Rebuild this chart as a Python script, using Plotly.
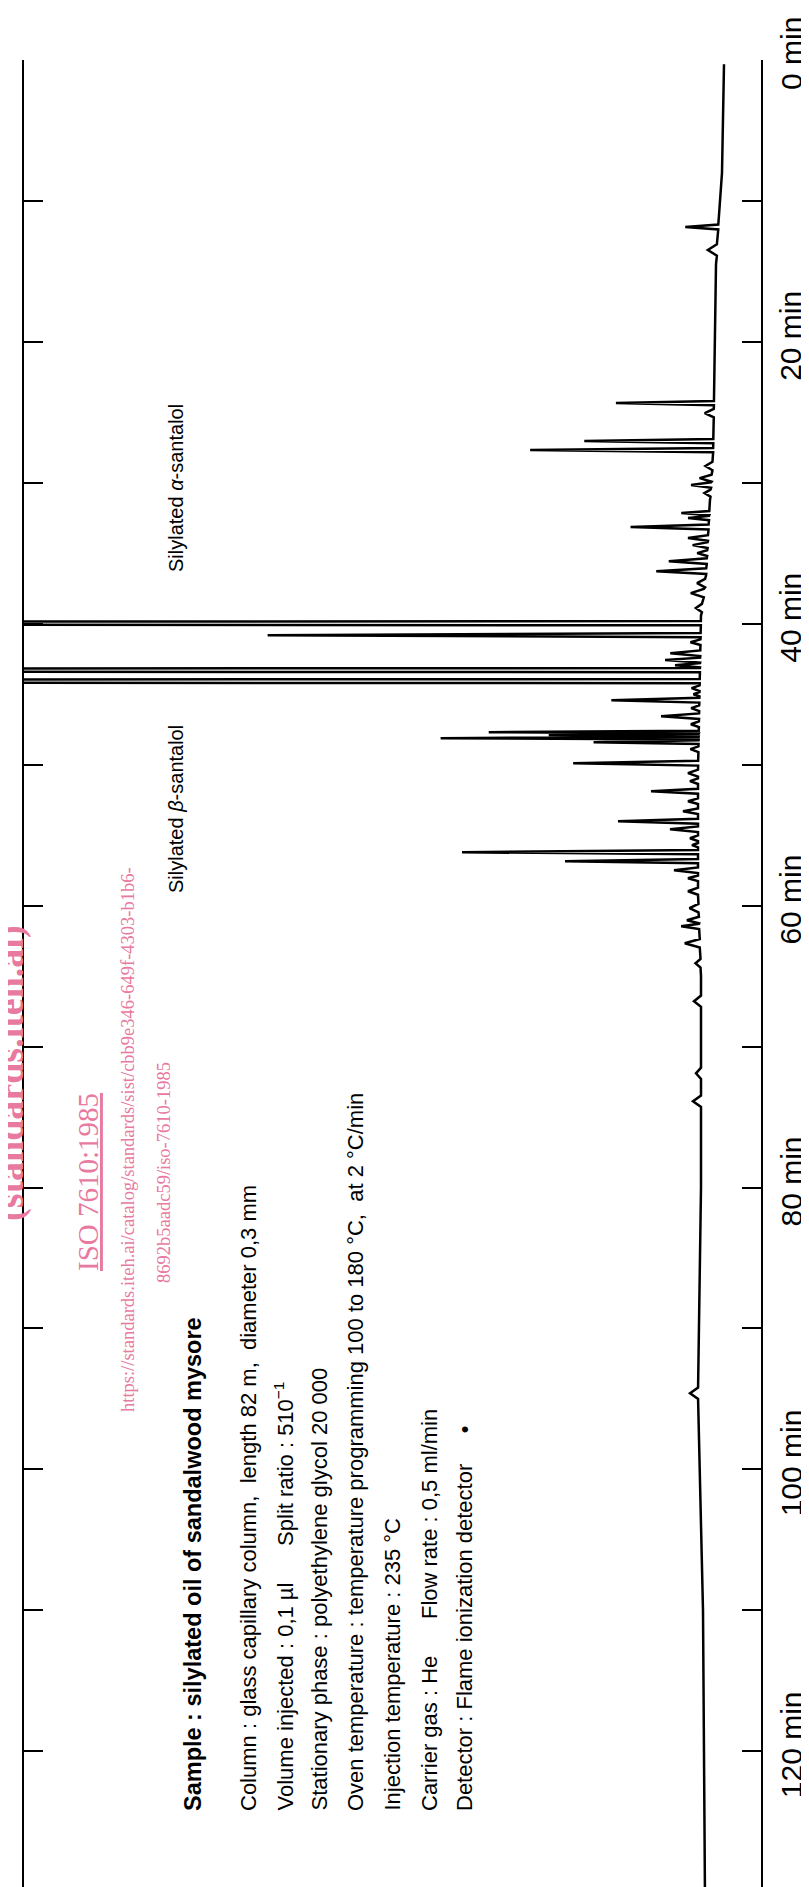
import numpy as np
import plotly.graph_objects as go

# ---------------- data ----------------
# time axis in minutes, response in arbitrary detector units
tick_vals = [0, 10, 20, 30, 40, 50, 60, 70, 80, 90, 100, 110, 120, 130]
label_vals = [0, 20, 40, 60, 80, 100, 120]
label_text = ["0 min", "20 min", "40 min", "60 min", "80 min", "100 min", "120 min"]

# baseline level (drift) knots
base_t = [0.3, 8, 11, 14.5, 24, 28.3, 31.2, 36.6, 39.4, 50.4, 59.3, 65, 80, 95, 110, 130.5]
base_r = [-3, -1, 2, 5, 7, 8, 11, 15, 20, 23, 23, 20, 20, 23, 18, 16]

# peaks: retention time (min), height above baseline, base width (min)
peak_t = [11.85, 13.48, 24.34, 25.05, 27.04, 27.68, 28.81, 29.67, 30.16, 30.73,
          32.15, 32.50, 33.14, 33.92, 34.42, 34.99, 35.56, 36.27, 37.12, 37.83,
          38.89, 39.96, 40.81, 41.31, 42.09, 42.58, 42.94, 43.29, 44.07, 44.57,
          45.00, 45.42, 45.99, 46.56, 47.13, 47.69, 47.90, 48.12, 48.40, 48.90,
          49.89, 50.60, 51.17, 51.88, 52.59, 53.30, 54.01, 54.58, 55.22, 55.71,
          56.21, 56.85, 57.49, 58.06, 58.98, 60.18, 61.04, 61.46, 62.67, 64.09,
          66.78, 71.90, 73.88, 94.60]
peak_h = [33, 9, 98, 9, 129, 183, 7, 12, 20, 6,
          28, 21, 78, 20, 15, 10, 38, 50, 8, 13,
          6, 3000, 433, 10, 30, 35, 25, 3000, 3000, 8,
          6, 88, 8, 38, 8, 210, 150, 258, 105, 8,
          125, 10, 8, 47, 10, 15, 80, 28, 8, 6,
          236, 133, 24, 10, 10, 9, 12, 18, 15, 5,
          7, 5, 8, 8]
peak_w = [0.35, 0.8, 0.3, 0.6, 0.3, 0.3, 0.6, 0.5, 0.4, 0.5,
          0.3, 0.3, 0.35, 0.4, 0.4, 0.4, 0.4, 0.4, 0.6, 0.6,
          0.6, 0.3, 0.3, 0.4, 0.4, 0.35, 0.3, 0.3, 0.3, 0.4,
          0.3, 0.35, 0.4, 0.4, 0.4, 0.2, 0.2, 0.2, 0.25, 0.4,
          0.35, 0.5, 0.4, 0.35, 0.4, 0.4, 0.35, 0.4, 0.4, 0.3,
          0.3, 0.3, 0.4, 0.4, 0.5, 0.6, 0.5, 0.4, 0.6, 0.6,
          0.8, 0.8, 0.8, 0.8]

# ---------------- build the trace ----------------
pts = []
spans = [(t - w / 2, t + w / 2) for t, w in zip(peak_t, peak_w)]
for t, r in zip(base_t, base_r):
    if not any(a <= t <= b for a, b in spans):
        pts.append((t, r))
for t, h, w in zip(peak_t, peak_h, peak_w):
    b = float(np.interp(t, base_t, base_r))
    pts += [(t - w / 2, b), (t, b + h), (t + w / 2, b)]
pts.sort(key=lambda p: p[0])
tt = [p[0] for p in pts]
rr = [p[1] for p in pts]

W, H = 809, 1887
L, R, T, B = 16, 56, 52, 0
fig = go.Figure()
fig.add_trace(go.Scatter(x=rr, y=tt, mode="lines",
                         line=dict(color="black", width=2.5),
                         hoverinfo="skip", showlegend=False))

def px(X):
    return (X - L) / (W - L - R)

def py(Y):
    return 1 - (Y - T) / (H - T - B)

ann = []
sans = "Liberation Sans, Arial, sans-serif"
sp6 = "&nbsp;" * 6
lines = [
    (185, "<b>Sample : silylated oil of sandalwood mysore</b>", 23.5),
    (240, "Column : glass capillary column,  length 82 m,  diameter 0,3 mm", 22),
    (275, "Volume injected : 0,1 µl" + sp6 + "Split ratio : 510<sup>−1</sup>", 22),
    (311, "Stationary phase : polyethylene glycol 20 000", 22),
    (347, "Oven temperature : temperature programming 100 to 180 °C,  at 2 °C/min", 22),
    (384, "Injection temperature : 235 °C", 22),
    (421, "Carrier gas : He" + sp6 + "Flow rate : 0,5 ml/min", 22),
    (456, "Detector : Flame ionization detector" + "&nbsp;" * 5 + "•", 22),
]
for X, s, fs in lines:
    ann.append(dict(x=px(X), y=py(1805), xref="paper", yref="paper", text=s,
                    textangle=-90, xanchor="center", yanchor="bottom",
                    showarrow=False, font=dict(family=sans, size=fs, color="black")))

lab_font = dict(family=sans, size=20, color="black")
ann.append(dict(x=px(168), y=py(566), xref="paper", yref="paper",
                text="Silylated <i>α</i>-santalol", textangle=-90,
                xanchor="center", yanchor="bottom", showarrow=False, font=lab_font))
ann.append(dict(x=px(168), y=py(887), xref="paper", yref="paper",
                text="Silylated <i>β</i>-santalol", textangle=-90,
                xanchor="center", yanchor="bottom", showarrow=False, font=lab_font))

# time-axis labels, placed on the time scale
for v, s in zip(label_vals, label_text):
    ann.append(dict(x=px(783), y=v, yshift=6, xref="paper", yref="y", text=s,
                    textangle=-90, xanchor="center", yanchor="middle",
                    showarrow=False,
                    font=dict(family=sans, size=30, color="black")))

pink = "#e8799f"
serif = "Liberation Serif, Times New Roman, serif"
pfont = dict(family=serif, size=18.5, color=pink)
ann.append(dict(x=px(2), y=py(1065), xref="paper", yref="paper",
                text="<b>(standards.iteh.ai)</b>", textangle=-90,
                xanchor="center", yanchor="middle", showarrow=False,
                font=dict(family=serif, size=38, color=pink)))
ann.append(dict(x=px(80), y=py(1174), xref="paper", yref="paper",
                text="<u>ISO 7610:1985</u>", textangle=-90,
                xanchor="center", yanchor="middle", showarrow=False,
                font=dict(family=serif, size=29, color=pink)))
ann.append(dict(x=px(120), y=py(1132), xref="paper", yref="paper",
                text="https://standards.iteh.ai/catalog/standards/sist/cbb9e346-649f-4303-b1b6-",
                textangle=-90, xanchor="center", yanchor="middle", showarrow=False, font=pfont))
ann.append(dict(x=px(156), y=py(1165), xref="paper", yref="paper",
                text="8692b5aadc59/iso-7610-1985", textangle=-90,
                xanchor="center", yanchor="middle", showarrow=False, font=pfont))

fig.update_layout(
    width=W, height=H, margin=dict(l=L, r=R, t=T, b=B, pad=0),
    paper_bgcolor="white", plot_bgcolor="white",
    showlegend=False, hovermode=False, annotations=ann,
    xaxis=dict(range=[697, -40], autorange=False, showgrid=False, zeroline=False,
               showticklabels=False, showline=False, ticks=""),
    yaxis=dict(range=[130.2, 0], autorange=False, side="right",
               showgrid=False, zeroline=False,
               showline=True, linecolor="black", linewidth=2, mirror="ticks",
               ticks="inside", ticklen=19, tickwidth=2, tickcolor="black",
               tickmode="array", tickvals=tick_vals, showticklabels=False),
)
fig.write_html("out.html")
